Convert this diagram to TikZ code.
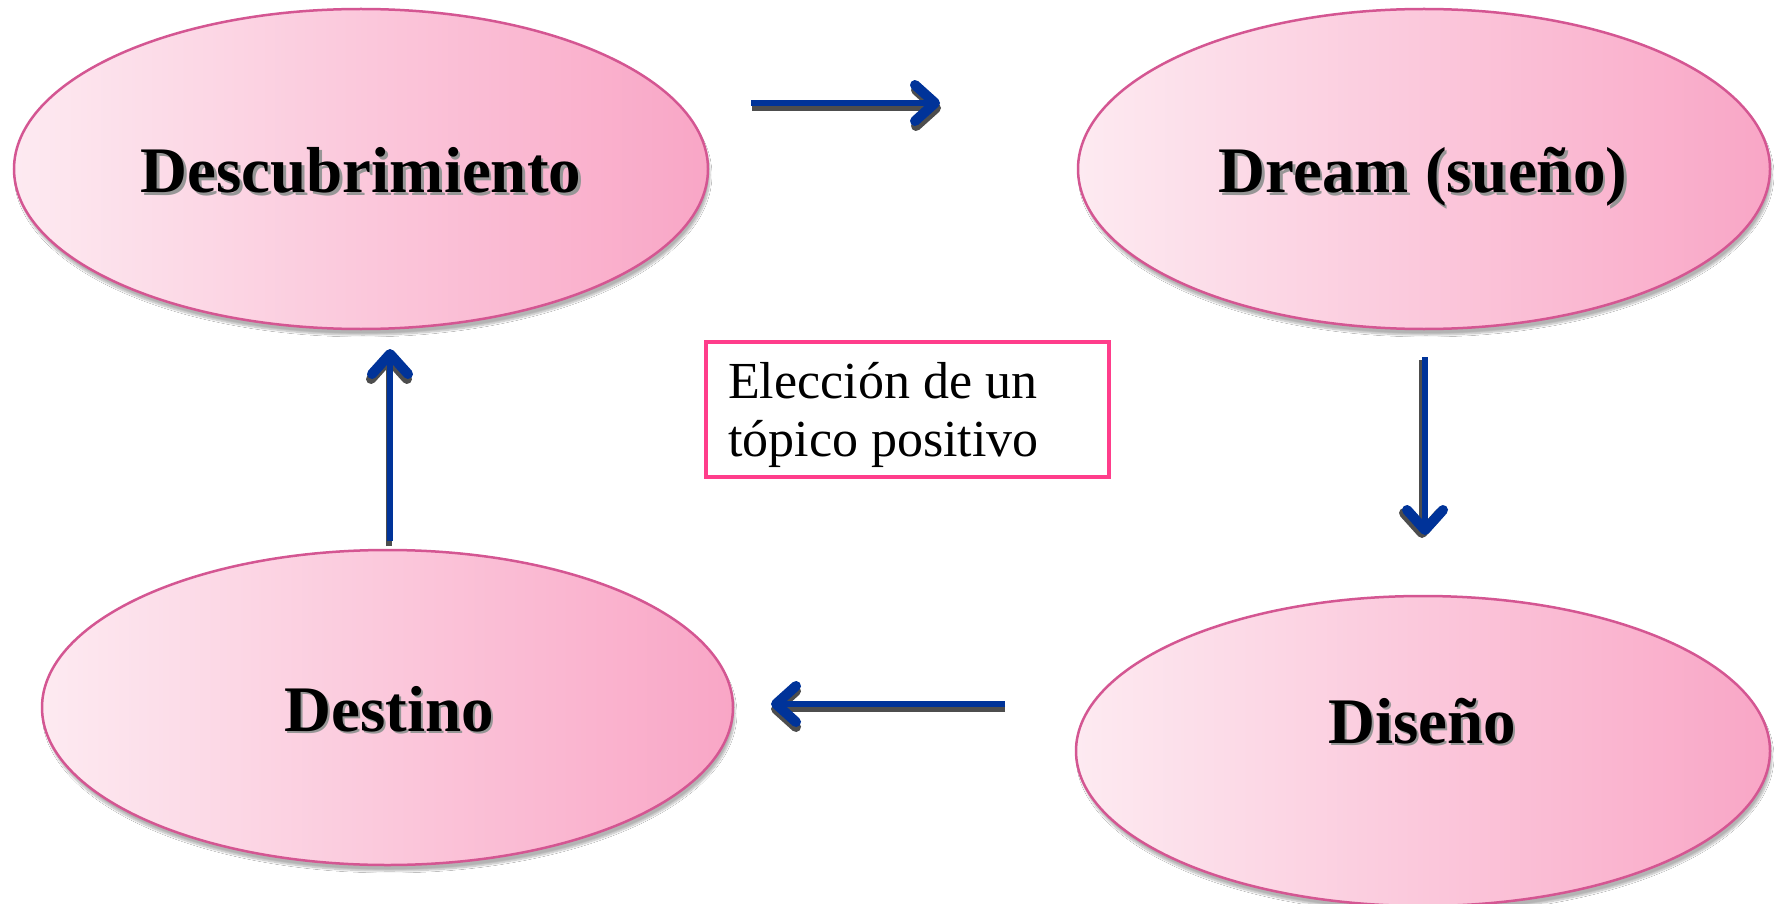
\documentclass[tikz,border=0pt]{standalone}
\usepackage{fontspec}
\setmainfont{Liberation Serif}
\usetikzlibrary{shapes.geometric,arrows.meta,shadows.blur}
\definecolor{pinkL}{RGB}{253,234,241}
\definecolor{pinkR}{RGB}{249,166,198}
\definecolor{pinkB}{RGB}{212,86,146}
\definecolor{boxB}{RGB}{255,61,139}
\definecolor{arrB}{RGB}{0,51,153}
\definecolor{arrS}{RGB}{77,77,77}
\definecolor{txtS}{RGB}{150,150,150}
\begin{document}
\begin{tikzpicture}[x=1pt,y=-1pt,
  oval/.style={ellipse, draw=pinkB, line width=2.5pt, left color=pinkL, right color=pinkR, inner sep=0pt,
    blur shadow={shadow xshift=2pt, shadow yshift=-6pt, shadow opacity=30, shadow blur steps=10}},
  bigtxt/.style={font=\bfseries\fontsize{65}{78}\selectfont, anchor=base, inner sep=0pt},
  bigshadow/.style={bigtxt, text=txtS},
  tipstyle/.style={-{Straight Barb[length=20pt, width=36pt, round, line width=10pt]}},
  arr/.style={draw=arrB, line width=6.5pt, tipstyle},
  arrshadow/.style={draw=arrS, line width=6.5pt, tipstyle},
  boxtxt/.style={font=\fontsize{52}{58}\selectfont, anchor=base west, inner sep=0pt}
]
\useasboundingbox (0,0) rectangle (1779,904);
\fill[white] (0,0) rectangle (1779,904);

% ellipses
\node[oval, minimum width=694pt, minimum height=320pt] (e1) at (361,169) {};
\node[oval, minimum width=692pt, minimum height=320pt] (e2) at (1424,169) {};
\node[oval, minimum width=691pt, minimum height=315pt] (e3) at (387.5,707.5) {};
\node[oval, minimum width=694pt, minimum height=310pt] (e4) at (1423,751) {};

% labels with shadow
\node[bigshadow] (s1) at (363.5,195.5) {Descubrimiento};
\node[bigtxt] (t1) at (361,193) {Descubrimiento};
\node[bigshadow] (s2) at (1425.5,195.5) {Dream (sueño)};
\node[bigtxt] (t2) at (1423,193) {Dream (sueño)};
\node[bigshadow] (s3) at (391.5,733.5) {Destino};
\node[bigtxt] (t3) at (389,731) {Destino};
\node[bigshadow] (s4) at (1424.5,745.5) {Diseño};
\node[bigtxt] (t4) at (1422,743) {Diseño};

% centre box
\node[draw=boxB, line width=4pt, minimum width=403pt, minimum height=135pt, inner sep=0pt] (box) at (907.5,409.5) {};
\node[boxtxt] (b1) at (728,398) {Elección de un};
\node[boxtxt] (b2) at (728,456) {tópico positivo};

% arrow end points
\coordinate (a1s) at (751,103);  \coordinate (a1e) at (940,103);
\coordinate (a2s) at (1425,357); \coordinate (a2e) at (1425,535);
\coordinate (a3s) at (1005,704); \coordinate (a3e) at (771,704);
\coordinate (a4s) at (390,541);  \coordinate (a4e) at (390,349);

% arrow shadows
\draw[arrshadow] ([shift={(1,5)}]a1s) -- ([shift={(1,5)}]a1e);
\draw[arrshadow] ([shift={(-3,3)}]a2s) -- ([shift={(-3,3)}]a2e);
\draw[arrshadow] ([shift={(0,5)}]a3s) -- ([shift={(0,5)}]a3e);
\draw[arrshadow] ([shift={(-1,5)}]a4s) -- ([shift={(-1,5)}]a4e);

% arrows
\draw[arr] (a1s) -- (a1e);
\draw[arr] (a2s) -- (a2e);
\draw[arr] (a3s) -- (a3e);
\draw[arr] (a4s) -- (a4e);
\end{tikzpicture}
\end{document}
